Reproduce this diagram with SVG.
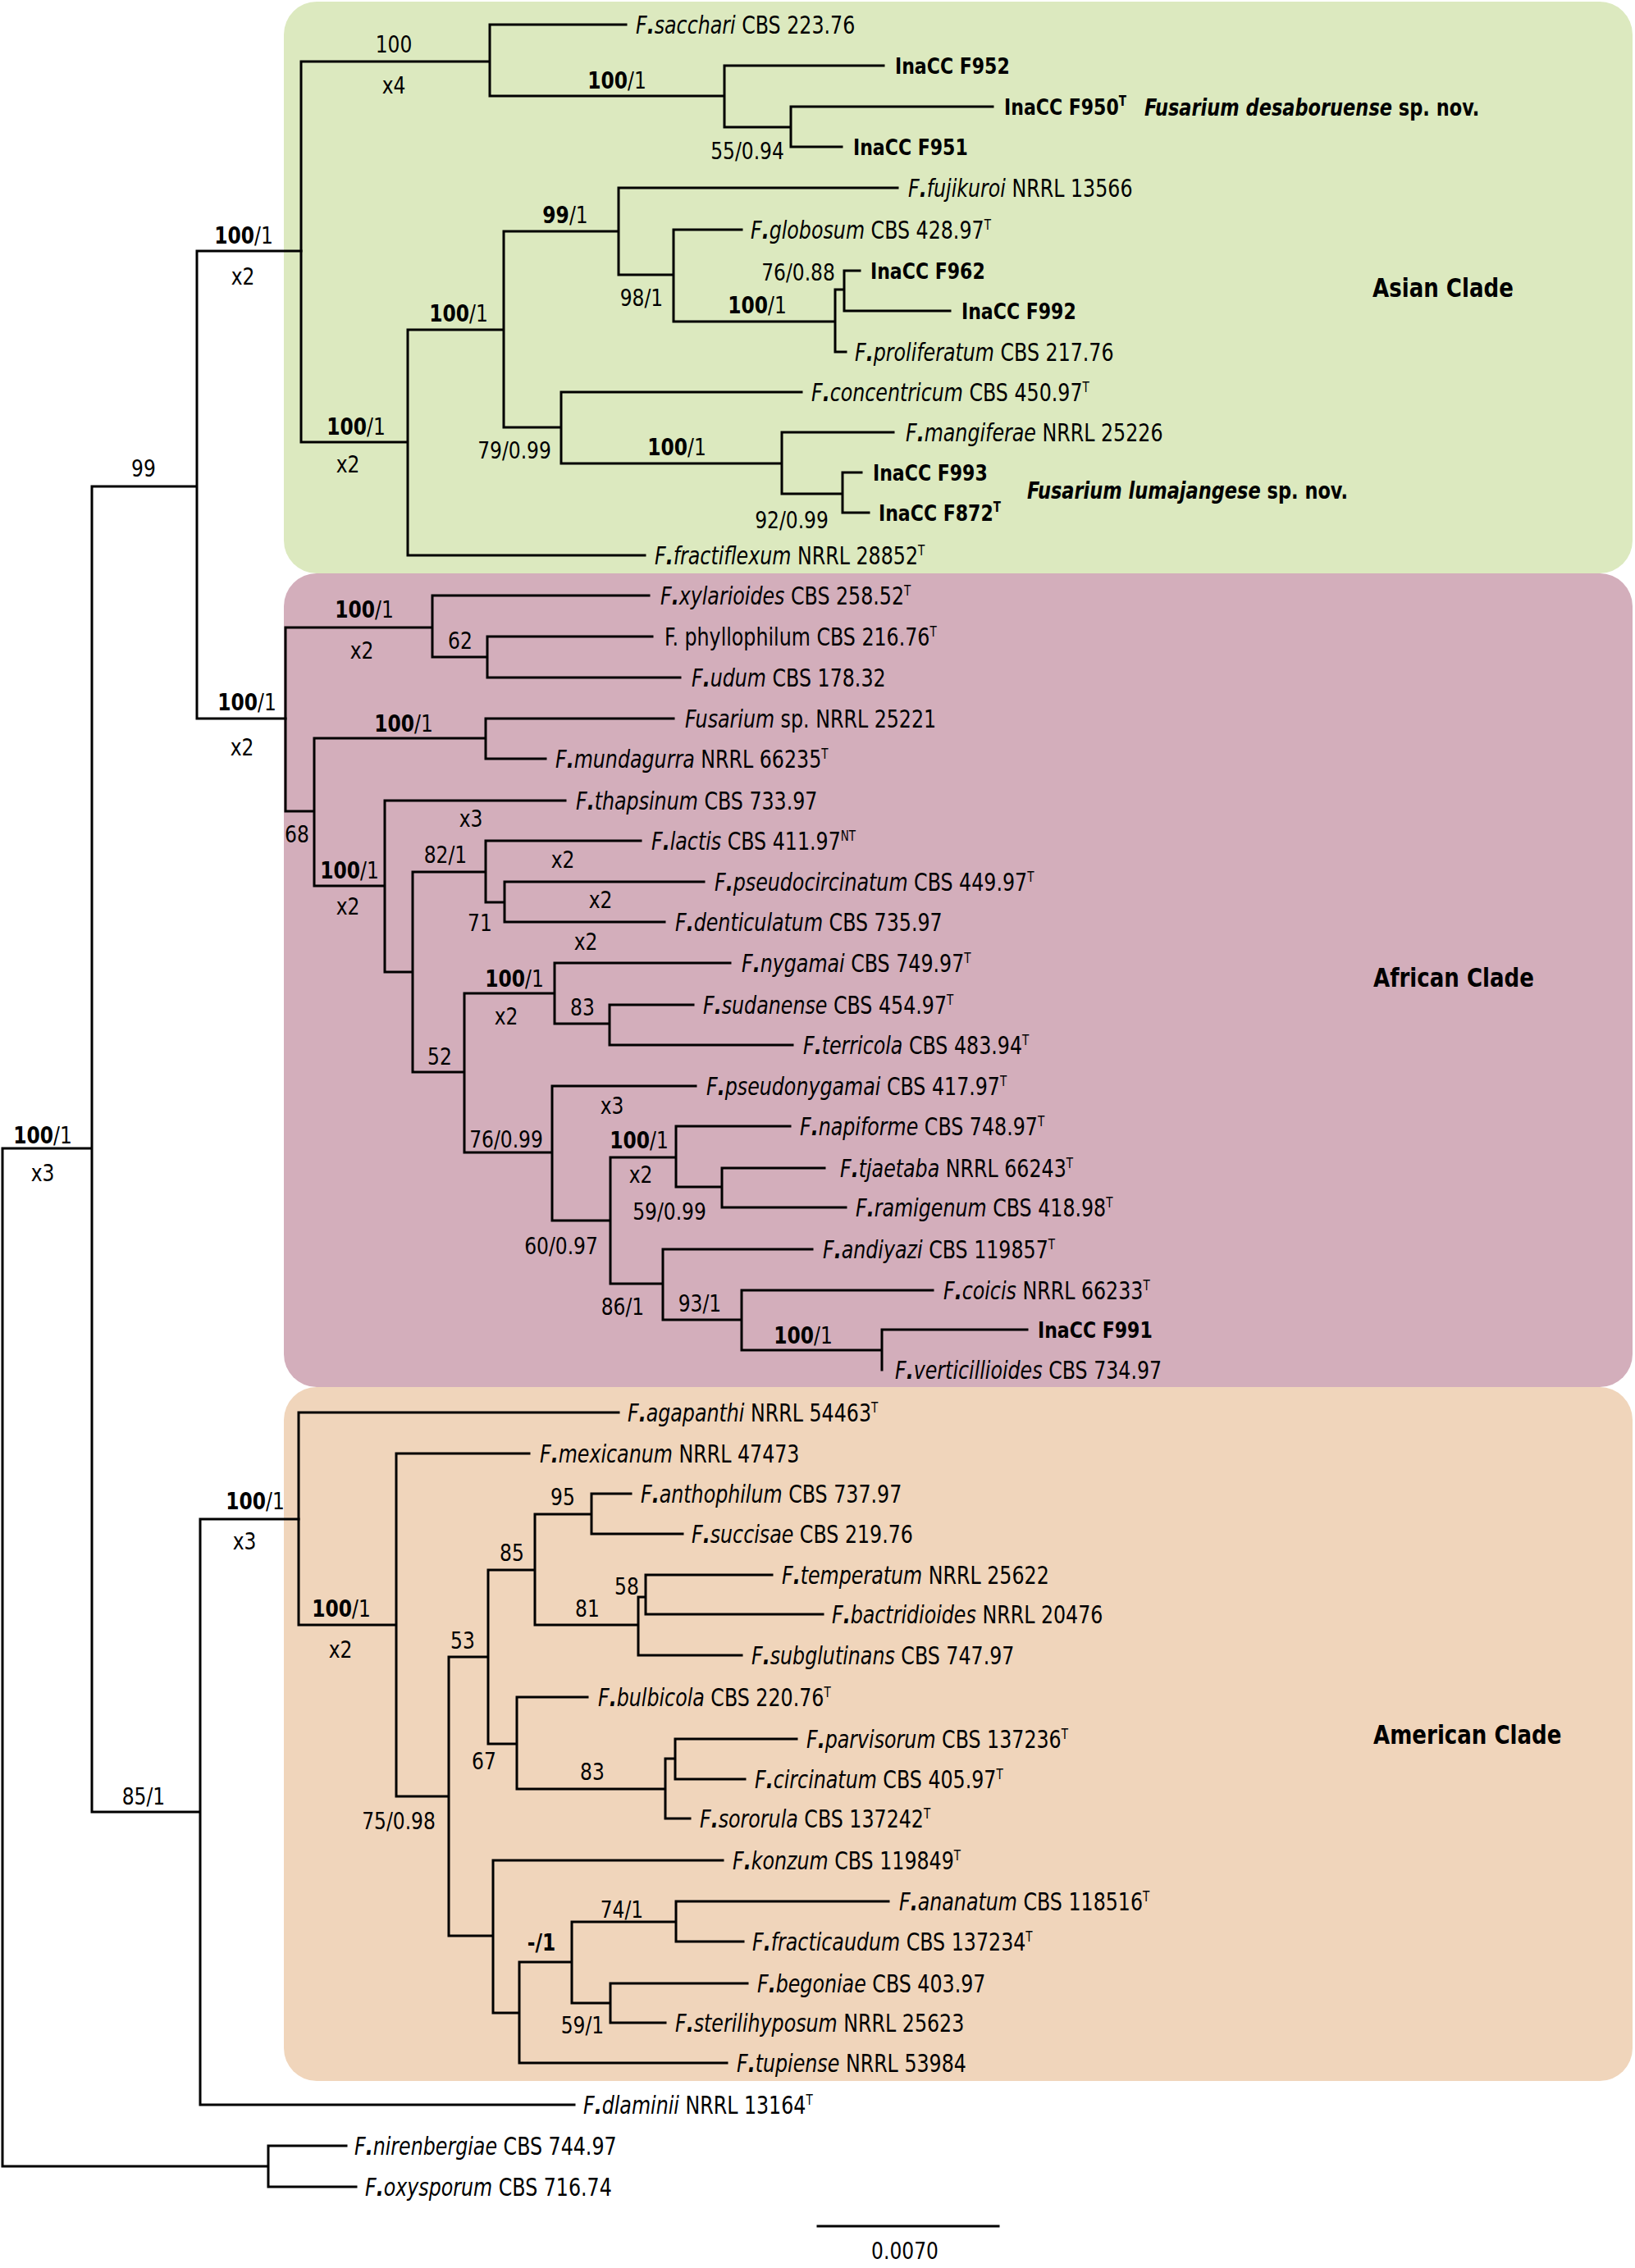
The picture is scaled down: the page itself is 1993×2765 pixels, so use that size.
<svg xmlns="http://www.w3.org/2000/svg" width="1993" height="2765" viewBox="0 0 1993 2765">
<style>
text{font-family:"DejaVu Sans Condensed","DejaVu Sans",sans-serif;font-stretch:condensed;fill:#000;transform-box:fill-box;transform-origin:50% 50%;transform:scaleY(1.12)}
.t{font-size:26.4px}
.ib{font-size:24.5px;font-weight:bold}
.s{font-size:26px;text-anchor:middle}
.c{font-size:29px;font-weight:bold}
.i{font-style:italic}
.b{font-weight:bold}
.sup{font-size:15px}
#edges path{fill:none;stroke:#000;stroke-width:3;stroke-linecap:square}
</style>
<rect width="1993" height="2765" fill="#fff"/>
<g id="clades">
<rect id="asian-box" x="346" y="2" width="1644" height="697" rx="40" fill="#dce9bf"/>
<rect id="african-box" x="346" y="699" width="1644" height="992" rx="40" fill="#d3aebb"/>
<rect id="american-box" x="346" y="1691" width="1644" height="846" rx="40" fill="#f0d5bb"/>
</g>
<g id="edges">
<path d="M3 1400V2641M3 1400H112M3 2641H327M112 593V2209M112 593H240M112 2209H244M240 306V876M240 306H367M240 876H348M244 1852V2566M244 1852H364M244 2566H700M327 2616V2666M327 2616H422M327 2666H434"/>
<path d="M367 75V539M367 75H597M597 30V117M597 30H763M597 117H883M883 80V155M883 80H1077M883 155H964M964 130V179M964 130H1210M964 179H1026M367 539H497M497 402V677M497 677H786M497 402H614M614 282V521M614 282H754M754 229V335M754 229H1094M754 335H821M821 280V392M821 280H904M821 392H1018M1018 353V429M1018 353H1029M1029 330V379M1029 330H1048M1029 379H1158M1018 429H1031M614 521H684M684 478V565M684 478H977M684 565H953M953 527V602M953 527H1089M953 602H1027M1027 576V625M1027 576H1050M1027 625H1059"/>
<path d="M348 765V989M348 765H527M527 726V801M527 726H791M527 801H594M594 776V826M594 776H795M594 826H829M348 989H383M383 900V1080M383 900H592M592 876V925M592 876H821M592 925H665M383 1080H469M469 976V1185M469 976H689M469 1185H503M503 1063V1307M503 1063H592M592 1025V1100M592 1025H781M592 1100H615M615 1075V1124M615 1075H858M615 1124H810M503 1307H566M566 1211V1405M566 1211H676M676 1174V1248M676 1174H890M676 1248H743M743 1225V1274M743 1225H845M743 1274H966M566 1405H673M673 1324V1488M673 1324H848M673 1488H744M744 1411V1565M744 1411H824M824 1373V1447M824 1373H963M824 1447H880M880 1424V1472M880 1424H1005M880 1472H1031M744 1565H808M808 1523V1609M808 1523H990M808 1609H904M904 1573V1646M904 1573H1137M904 1646H1075M1075 1621V1670M1075 1621H1252"/>
<path d="M364 1722V1981M364 1722H754M364 1981H483M483 1772V2190M483 1772H645M483 2190H547M547 2020V2360M547 2020H595M595 1914V2126M595 1914H652M652 1846V1981M652 1846H721M721 1821V1870M721 1821H769M721 1870H832M652 1981H778M778 1947V2018M778 1947H787M787 1920V1968M787 1920H941M787 1968H1003M778 2018H904M595 2126H630M630 2069V2181M630 2069H716M630 2181H811M811 2144V2217M811 2144H823M823 2120V2169M823 2120H971M823 2169H908M811 2217H841M547 2360H601M601 2268V2454M601 2268H881M601 2454H633M633 2392V2515M633 2392H697M697 2343V2442M697 2343H824M824 2318V2367M824 2318H1083M824 2367H906M697 2442H744M744 2418V2466M744 2418H911M744 2466H811M633 2515H886"/>
<path id="scalebar" d="M997 2714H1217"/>
</g>
<g id="taxa">
<g id="n-sacchari"><text class="t" x="775" y="40"><tspan class="i">F<tspan class="b">.</tspan>sacchari</tspan> CBS 223.76</text></g>
<g id="n-F952"><text class="ib" x="1091" y="89">InaCC F952</text></g>
<g id="n-F950"><text class="ib" x="1224" y="139">InaCC F950<tspan class="sup" dy="-10">T</tspan></text><text x="1395" y="140" style="font-size:25px;font-weight:bold"><tspan class="i">Fusarium desaboruense</tspan> sp. nov.</text></g>
<g id="n-F951"><text class="ib" x="1040" y="188">InaCC F951</text></g>
<g id="n-fujikuroi"><text class="t" x="1107" y="239"><tspan class="i">F<tspan class="b">.</tspan>fujikuroi</tspan> NRRL 13566</text></g>
<g id="n-globosum"><text class="t" x="915" y="290"><tspan class="i">F<tspan class="b">.</tspan>globosum</tspan> CBS 428.97<tspan class="sup" dy="-10">T</tspan></text></g>
<g id="n-F962"><text class="ib" x="1061" y="339">InaCC F962</text></g>
<g id="n-F992"><text class="ib" x="1172" y="388">InaCC F992</text></g>
<g id="n-proliferatum"><text class="t" x="1042" y="439"><tspan class="i">F<tspan class="b">.</tspan>proliferatum</tspan> CBS 217.76</text></g>
<g id="n-concentricum"><text class="t" x="989" y="488"><tspan class="i">F<tspan class="b">.</tspan>concentricum</tspan> CBS 450.97<tspan class="sup" dy="-10">T</tspan></text></g>
<g id="n-mangiferae"><text class="t" x="1104" y="537"><tspan class="i">F<tspan class="b">.</tspan>mangiferae</tspan> NRRL 25226</text></g>
<g id="n-F993"><text class="ib" x="1064" y="585">InaCC F993</text></g>
<g id="n-F872"><text class="ib" x="1071" y="634">InaCC F872<tspan class="sup" dy="-10">T</tspan></text><text x="1252" y="607" style="font-size:25px;font-weight:bold"><tspan class="i">Fusarium lumajangese</tspan> sp. nov.</text></g>
<g id="n-fractiflexum"><text class="t" x="798" y="687"><tspan class="i">F<tspan class="b">.</tspan>fractiflexum</tspan> NRRL 28852<tspan class="sup" dy="-10">T</tspan></text></g>
<g id="n-xylarioides"><text class="t" x="805" y="736"><tspan class="i">F<tspan class="b">.</tspan>xylarioides</tspan> CBS 258.52<tspan class="sup" dy="-10">T</tspan></text></g>
<g id="n-phyllophilum"><text class="t" x="810" y="786">F. phyllophilum CBS 216.76<tspan class="sup" dy="-10">T</tspan></text></g>
<g id="n-udum"><text class="t" x="843" y="836"><tspan class="i">F<tspan class="b">.</tspan>udum</tspan> CBS 178.32</text></g>
<g id="n-fsp"><text class="t" x="835" y="886"><tspan class="i">Fusarium</tspan> sp. NRRL 25221</text></g>
<g id="n-mundagurra"><text class="t" x="677" y="935"><tspan class="i">F<tspan class="b">.</tspan>mundagurra</tspan> NRRL 66235<tspan class="sup" dy="-10">T</tspan></text></g>
<g id="n-thapsinum"><text class="t" x="702" y="986"><tspan class="i">F<tspan class="b">.</tspan>thapsinum</tspan> CBS 733.97</text></g>
<g id="n-lactis"><text class="t" x="794" y="1035"><tspan class="i">F<tspan class="b">.</tspan>lactis</tspan> CBS 411.97<tspan class="sup" dy="-10">NT</tspan></text></g>
<g id="n-pseudocircinatum"><text class="t" x="871" y="1085"><tspan class="i">F<tspan class="b">.</tspan>pseudocircinatum</tspan> CBS 449.97<tspan class="sup" dy="-10">T</tspan></text></g>
<g id="n-denticulatum"><text class="t" x="823" y="1134"><tspan class="i">F<tspan class="b">.</tspan>denticulatum</tspan> CBS 735.97</text></g>
<g id="n-nygamai"><text class="t" x="904" y="1184"><tspan class="i">F<tspan class="b">.</tspan>nygamai</tspan> CBS 749.97<tspan class="sup" dy="-10">T</tspan></text></g>
<g id="n-sudanense"><text class="t" x="857" y="1235"><tspan class="i">F<tspan class="b">.</tspan>sudanense</tspan> CBS 454.97<tspan class="sup" dy="-10">T</tspan></text></g>
<g id="n-terricola"><text class="t" x="979" y="1284"><tspan class="i">F<tspan class="b">.</tspan>terricola</tspan> CBS 483.94<tspan class="sup" dy="-10">T</tspan></text></g>
<g id="n-pseudonygamai"><text class="t" x="861" y="1334"><tspan class="i">F<tspan class="b">.</tspan>pseudonygamai</tspan> CBS 417.97<tspan class="sup" dy="-10">T</tspan></text></g>
<g id="n-napiforme"><text class="t" x="975" y="1383"><tspan class="i">F<tspan class="b">.</tspan>napiforme</tspan> CBS 748.97<tspan class="sup" dy="-10">T</tspan></text></g>
<g id="n-tjaetaba"><text class="t" x="1024" y="1434"><tspan class="i">F<tspan class="b">.</tspan>tjaetaba</tspan> NRRL 66243<tspan class="sup" dy="-10">T</tspan></text></g>
<g id="n-ramigenum"><text class="t" x="1043" y="1482"><tspan class="i">F<tspan class="b">.</tspan>ramigenum</tspan> CBS 418.98<tspan class="sup" dy="-10">T</tspan></text></g>
<g id="n-andiyazi"><text class="t" x="1003" y="1533"><tspan class="i">F<tspan class="b">.</tspan>andiyazi</tspan> CBS 119857<tspan class="sup" dy="-10">T</tspan></text></g>
<g id="n-coicis"><text class="t" x="1150" y="1583"><tspan class="i">F<tspan class="b">.</tspan>coicis</tspan> NRRL 66233<tspan class="sup" dy="-10">T</tspan></text></g>
<g id="n-F991"><text class="ib" x="1265" y="1630">InaCC F991</text></g>
<g id="n-verticillioides"><text class="t" x="1091" y="1680"><tspan class="i">F<tspan class="b">.</tspan>verticillioides</tspan> CBS 734.97</text></g>
<g id="n-agapanthi"><text class="t" x="765" y="1732"><tspan class="i">F<tspan class="b">.</tspan>agapanthi</tspan> NRRL 54463<tspan class="sup" dy="-10">T</tspan></text></g>
<g id="n-mexicanum"><text class="t" x="658" y="1782"><tspan class="i">F<tspan class="b">.</tspan>mexicanum</tspan> NRRL 47473</text></g>
<g id="n-anthophilum"><text class="t" x="781" y="1831"><tspan class="i">F<tspan class="b">.</tspan>anthophilum</tspan> CBS 737.97</text></g>
<g id="n-succisae"><text class="t" x="843" y="1880"><tspan class="i">F<tspan class="b">.</tspan>succisae</tspan> CBS 219.76</text></g>
<g id="n-temperatum"><text class="t" x="953" y="1930"><tspan class="i">F<tspan class="b">.</tspan>temperatum</tspan> NRRL 25622</text></g>
<g id="n-bactridioides"><text class="t" x="1014" y="1978"><tspan class="i">F<tspan class="b">.</tspan>bactridioides</tspan> NRRL 20476</text></g>
<g id="n-subglutinans"><text class="t" x="916" y="2028"><tspan class="i">F<tspan class="b">.</tspan>subglutinans</tspan> CBS 747.97</text></g>
<g id="n-bulbicola"><text class="t" x="729" y="2079"><tspan class="i">F<tspan class="b">.</tspan>bulbicola</tspan> CBS 220.76<tspan class="sup" dy="-10">T</tspan></text></g>
<g id="n-parvisorum"><text class="t" x="983" y="2130"><tspan class="i">F<tspan class="b">.</tspan>parvisorum</tspan> CBS 137236<tspan class="sup" dy="-10">T</tspan></text></g>
<g id="n-circinatum"><text class="t" x="920" y="2179"><tspan class="i">F<tspan class="b">.</tspan>circinatum</tspan> CBS 405.97<tspan class="sup" dy="-10">T</tspan></text></g>
<g id="n-sororula"><text class="t" x="853" y="2227"><tspan class="i">F<tspan class="b">.</tspan>sororula</tspan> CBS 137242<tspan class="sup" dy="-10">T</tspan></text></g>
<g id="n-konzum"><text class="t" x="893" y="2278"><tspan class="i">F<tspan class="b">.</tspan>konzum</tspan> CBS 119849<tspan class="sup" dy="-10">T</tspan></text></g>
<g id="n-ananatum"><text class="t" x="1096" y="2328"><tspan class="i">F<tspan class="b">.</tspan>ananatum</tspan> CBS 118516<tspan class="sup" dy="-10">T</tspan></text></g>
<g id="n-fracticaudum"><text class="t" x="917" y="2377"><tspan class="i">F<tspan class="b">.</tspan>fracticaudum</tspan> CBS 137234<tspan class="sup" dy="-10">T</tspan></text></g>
<g id="n-begoniae"><text class="t" x="923" y="2428"><tspan class="i">F<tspan class="b">.</tspan>begoniae</tspan> CBS 403.97</text></g>
<g id="n-sterilihyposum"><text class="t" x="823" y="2476"><tspan class="i">F<tspan class="b">.</tspan>sterilihyposum</tspan> NRRL 25623</text></g>
<g id="n-tupiense"><text class="t" x="898" y="2525"><tspan class="i">F<tspan class="b">.</tspan>tupiense</tspan> NRRL 53984</text></g>
<g id="n-dlaminii"><text class="t" x="711" y="2576"><tspan class="i">F<tspan class="b">.</tspan>dlaminii</tspan> NRRL 13164<tspan class="sup" dy="-10">T</tspan></text></g>
<g id="n-nirenbergiae"><text class="t" x="432" y="2626"><tspan class="i">F<tspan class="b">.</tspan>nirenbergiae</tspan> CBS 744.97</text></g>
<g id="n-oxysporum"><text class="t" x="445" y="2676"><tspan class="i">F<tspan class="b">.</tspan>oxysporum</tspan> CBS 716.74</text></g>
</g>
<g id="support">
<text class="s" x="480" y="63">100</text><text class="s" x="480" y="113">x4</text>
<text class="s" x="752" y="107"><tspan class="b">100</tspan>/1</text>
<text class="s" x="911" y="193">55/0.94</text>
<text class="s" x="297" y="296"><tspan class="b">100</tspan>/1</text><text class="s" x="296" y="346">x2</text>
<text class="s" x="434" y="529"><tspan class="b">100</tspan>/1</text><text class="s" x="424" y="575">x2</text>
<text class="s" x="559" y="391"><tspan class="b">100</tspan>/1</text>
<text class="s" x="689" y="271"><tspan class="b">99</tspan>/1</text>
<text class="s" x="782" y="372">98/1</text>
<text class="s" x="973" y="341">76/0.88</text>
<text class="s" x="923" y="381"><tspan class="b">100</tspan>/1</text>
<text class="s" x="627" y="558">79/0.99</text>
<text class="s" x="825" y="554"><tspan class="b">100</tspan>/1</text>
<text class="s" x="965" y="643">92/0.99</text>
<text class="s" x="175" y="580">99</text>
<text class="s" x="52" y="1393"><tspan class="b">100</tspan>/1</text><text class="s" x="52" y="1439">x3</text>
<text class="s" x="301" y="865"><tspan class="b">100</tspan>/1</text><text class="s" x="295" y="920">x2</text>
<text class="s" x="444" y="752"><tspan class="b">100</tspan>/1</text><text class="s" x="441" y="802">x2</text>
<text class="s" x="561" y="790">62</text>
<text class="s" x="362" y="1026">68</text>
<text class="s" x="492" y="891"><tspan class="b">100</tspan>/1</text>
<text class="s" x="426" y="1070"><tspan class="b">100</tspan>/1</text><text class="s" x="424" y="1114">x2</text>
<text class="s" x="574" y="1007">x3</text>
<text class="s" x="543" y="1051">82/1</text>
<text class="s" x="686" y="1057">x2</text>
<text class="s" x="585" y="1134">71</text>
<text class="s" x="732" y="1106">x2</text>
<text class="s" x="714" y="1157">x2</text>
<text class="s" x="536" y="1297">52</text>
<text class="s" x="627" y="1202"><tspan class="b">100</tspan>/1</text><text class="s" x="617" y="1248">x2</text>
<text class="s" x="710" y="1237">83</text>
<text class="s" x="746" y="1357">x3</text>
<text class="s" x="617" y="1398">76/0.99</text>
<text class="s" x="684" y="1528">60/0.97</text>
<text class="s" x="779" y="1399"><tspan class="b">100</tspan>/1</text><text class="s" x="781" y="1441">x2</text>
<text class="s" x="816" y="1486">59/0.99</text>
<text class="s" x="759" y="1602">86/1</text>
<text class="s" x="853" y="1598">93/1</text>
<text class="s" x="979" y="1637"><tspan class="b">100</tspan>/1</text>
<text class="s" x="311" y="1839"><tspan class="b">100</tspan>/1</text><text class="s" x="298" y="1888">x3</text>
<text class="s" x="416" y="1970"><tspan class="b">100</tspan>/1</text><text class="s" x="415" y="2020">x2</text>
<text class="s" x="686" y="1834">95</text>
<text class="s" x="624" y="1902">85</text>
<text class="s" x="764" y="1943">58</text>
<text class="s" x="716" y="1970">81</text>
<text class="s" x="564" y="2009">53</text>
<text class="s" x="590" y="2156">67</text>
<text class="s" x="722" y="2169">83</text>
<text class="s" x="486" y="2229">75/0.98</text>
<text class="s" x="758" y="2337">74/1</text>
<text class="s b" x="660" y="2377">-/1</text>
<text class="s" x="710" y="2478">59/1</text>
<text class="s" x="175" y="2199">85/1</text>
<text class="s" x="1103" y="2753">0.0070</text>
</g>
<g id="clade-labels">
<text class="c" x="1673" y="361">Asian Clade</text>
<text class="c" x="1674" y="1202">African Clade</text>
<text class="c" x="1674" y="2125">American Clade</text>
</g>
</svg>
